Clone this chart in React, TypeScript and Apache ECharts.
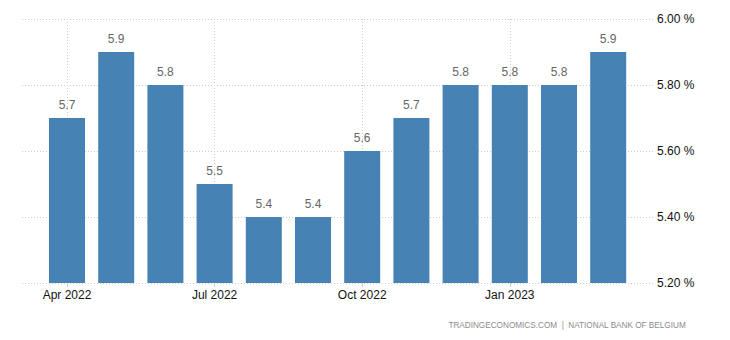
import React, { useEffect, useRef } from "react";
import * as echarts from "echarts";

const categories = ["Apr 2022", "May 2022", "Jun 2022", "Jul 2022", "Aug 2022", "Sep 2022", "Oct 2022", "Nov 2022", "Dec 2022", "Jan 2023", "Feb 2023", "Mar 2023"];
const values = [5.7, 5.9, 5.8, 5.5, 5.4, 5.4, 5.6, 5.7, 5.8, 5.8, 5.8, 5.9];
const yMin = 5.2;
const yMax = 6.0;
const yStep = 0.2;
const sourceText = "TRADINGECONOMICS.COM  |  NATIONAL BANK OF BELGIUM";

const FONT = "'Liberation Sans', Arial, sans-serif";

export default function App() {
  const ref = useRef<HTMLDivElement>(null);
  useEffect(() => {
    document.body.style.margin = "0";
    if (!ref.current) return;
    const chart = echarts.init(ref.current, null, { renderer: "svg" });
    const top = 19;
    const bottom = 57;
    chart.setOption({
      animation: false,
      grid: [
        { left: 22, right: 77, top, bottom },
        { left: 42.4, right: 97.2, top, bottom },
      ],
      xAxis: [
        { type: "category", gridIndex: 0, data: categories, show: false },
        {
          type: "category",
          gridIndex: 1,
          data: categories,
          boundaryGap: true,
          axisLine: { show: false },
          axisTick: { show: true, interval: 2, alignWithLabel: true, length: 4, lineStyle: { color: "#cccccc" } },
          axisLabel: { interval: 2, color: "#111", fontSize: 12, fontFamily: FONT, margin: 6 },
          splitLine: { show: true, interval: 2, alignWithLabel: true, lineStyle: { color: "#cccccc", type: [1, 2], width: 1 } },
        },
      ],
      yAxis: [
        {
          type: "value",
          gridIndex: 0,
          position: "right",
          min: yMin,
          max: yMax,
          interval: yStep,
          axisLine: { show: false },
          axisTick: { show: false },
          axisLabel: {
            color: "#111",
            fontSize: 12,
            fontFamily: FONT,
            margin: 4,
            formatter: (v: number) => v.toFixed(2) + " %",
          },
          splitLine: { show: true, lineStyle: { color: "#cccccc", type: [1, 2], width: 1 } },
        },
        {
          type: "value",
          gridIndex: 1,
          min: yMin,
          max: yMax,
          interval: yStep,
          show: false,
          splitLine: { show: false },
        },
      ],
      series: [
        {
          type: "bar",
          xAxisIndex: 1,
          yAxisIndex: 1,
          data: values,
          barWidth: 36,
          itemStyle: { color: "#4682b4" },
          label: {
            show: true,
            position: "top",
            distance: 7,
            color: "#666",
            fontSize: 12,
            fontFamily: FONT,
            formatter: (p: any) => String(p.value.toFixed(1)),
          },
        },
      ],
      graphic: [
        {
          type: "text",
          right: 44,
          top: 321,
          style: { text: sourceText, fill: "#8c8c8c", fontSize: 8.2, fontFamily: FONT },
        },
      ],
    });
    return () => chart.dispose();
  }, []);
  return <div ref={ref} style={{ width: 730, height: 340 }} />;
}
